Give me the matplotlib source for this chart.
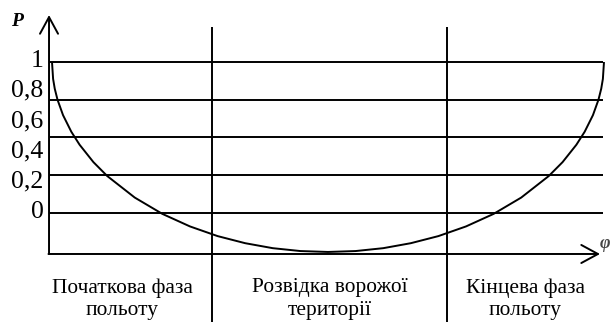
import matplotlib.pyplot as plt

plt.rcParams['font.family'] = ['Liberation Serif', 'DejaVu Serif']

# Probability curve over the mission (progress 0..1)
progress = [0, 0.002, 0.005, 0.01, 0.02, 0.035, 0.05, 0.075, 0.1, 0.15, 0.2, 0.25,
            0.3, 0.35, 0.4, 0.45, 0.5, 0.55, 0.6, 0.65, 0.7, 0.75, 0.8, 0.85,
            0.9, 0.925, 0.95, 0.965, 0.98, 0.99, 0.995, 0.998, 1.0]
p_values = [1.0, 0.888, 0.823, 0.750, 0.648, 0.538, 0.452, 0.337, 0.245, 0.102, -0.006, -0.089,
            -0.153, -0.200, -0.233, -0.252, -0.258, -0.252, -0.233, -0.200, -0.153, -0.089, -0.006, 0.102,
            0.245, 0.337, 0.452, 0.538, 0.648, 0.750, 0.823, 0.888, 1.0]

tick_values = [1, 0.8, 0.6, 0.4, 0.2, 0]
tick_labels = ['1', '0,8', '0,6', '0,4', '0,2', '0']
grid_levels = [1, 0.75, 0.5, 0.25, 0]

phase_bounds = [0.29, 0.716]
phase_labels = ['Початкова фаза\nпольоту', 'Розвідка ворожої\nтериторії', 'Кінцева фаза\nпольоту']
phase_label_x = [0.127, 0.503, 0.857]

fig = plt.figure(figsize=(6.1, 3.22), dpi=100)
ax = fig.add_axes([0, 0, 1, 1])
ax.set_xlim(-0.0942, 1.0109)
ax.set_ylim(-0.7219, 1.4106)
ax.axis('off')

lw = 1.4
axis_x = -0.0054
axis_y = -0.2715

# grid lines and phase separators
ax.hlines(grid_levels, axis_x, 0.998, color='black', lw=lw)
ax.vlines(phase_bounds, -0.7219, 1.232, color='black', lw=lw)

# curve
ax.plot(progress, p_values, color='black', lw=lw, solid_capstyle='butt')

# axes with arrows
arrow = dict(arrowstyle='->,head_length=1.2,head_width=0.65', color='black', lw=lw,
             shrinkA=0, shrinkB=0)
ax.annotate('', xy=(axis_x, 1.311), xytext=(axis_x, axis_y), arrowprops=arrow)
ax.annotate('', xy=(0.9928, axis_y), xytext=(axis_x - 0.001, axis_y), arrowprops=arrow)

# y labels
for v, lab in zip(tick_values, tick_labels):
    ax.annotate(lab, xy=(axis_x, v), xytext=(-4, 1), textcoords='offset points',
                ha='right', va='center', fontsize=18.5)

ax.text(-0.064, 1.2715, 'P', fontsize=14, fontweight='bold', fontstyle='italic',
        ha='center', va='center')
ax.text(1.002, -0.205, 'φ', fontsize=13, fontweight='bold', fontstyle='italic',
        ha='center', va='center', color='#444444')

# phase labels
for x, lab in zip(phase_label_x, phase_labels):
    ax.text(x, -0.57, lab, ha='center', va='center', fontsize=15.4, linespacing=1.25)

fig.savefig('out.png', dpi=100)
